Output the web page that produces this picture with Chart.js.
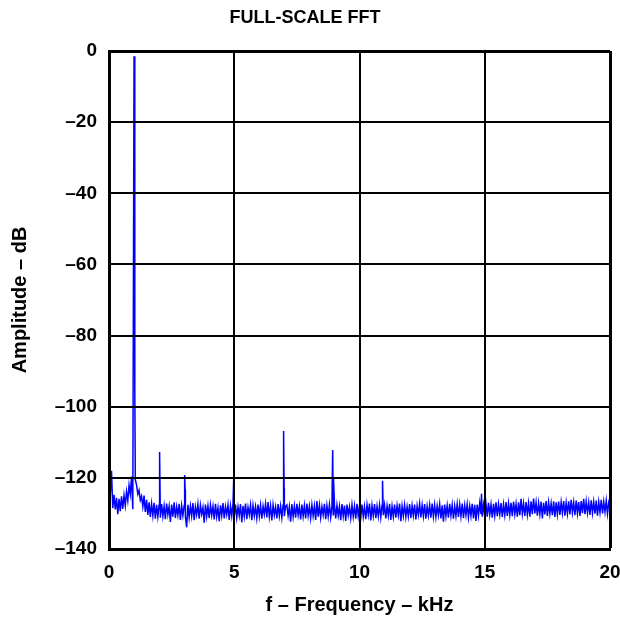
<!DOCTYPE html>
<html>
<head>
<meta charset="utf-8">
<title>Full-Scale FFT</title>
<script src="https://cdn.jsdelivr.net/npm/chart.js@4.4.1/dist/chart.umd.min.js"></script>
<style>
  html, body { margin: 0; padding: 0; background: #fff; }
  #fftChart { display: block; }
</style>
</head>
<body>
<canvas id="fftChart" width="620" height="620"></canvas>
<script>
// noise floor bins, 0.05 kHz apart; row k holds k.00 .. k.95 kHz
const binStepKHz = 0.05;

const floorDb = [
  [-126.0, -125.0, -125.8, -128.5, -124.8, -128.9, -125.6, -130.2, -125.9, -129.4, -125.2, -128.7, -124.9, -127.8, -123.9, -126.4, -122.1, -124.6, -119.6, -128.8],
  [-121.0, -120.5, -122.0, -124.6, -123.5, -126.3, -125.2, -128.1, -125.0, -129.6, -126.2, -130.4, -126.9, -131.0, -127.3, -130.6, -127.0, -131.5, -127.6, -130.9],
  [-127.6, -131.2, -127.4, -130.8, -127.9, -131.6, -127.2, -130.3, -128.0, -132.4, -127.5, -130.9, -126.9, -131.3, -128.1, -130.5, -127.3, -131.8, -127.8, -130.6],
  [-127.8, -130.9, -133.9, -127.6, -131.1, -127.9, -130.7, -127.1, -131.9, -128.2, -130.4, -127.4, -131.5, -127.7, -130.2, -128.3, -132.6, -127.5, -130.8, -127.9],
  [-131.3, -127.6, -130.5, -128.0, -131.7, -127.3, -130.9, -128.4, -132.2, -127.7, -130.6, -127.1, -131.4, -128.1, -130.3, -127.6, -131.8, -127.9, -130.7, -127.4],
  [-130.9, -127.5, -131.2, -128.2, -130.6, -127.4, -132.5, -127.9, -130.8, -127.2, -131.6, -128.3, -130.4, -127.6, -131.9, -127.8, -130.7, -128.1, -131.3, -127.5],
  [-130.8, -127.7, -131.5, -128.0, -130.3, -127.3, -131.1, -126.8, -130.9, -127.9, -132.0, -127.6, -130.5, -128.2, -131.4, -127.4, -130.7, -127.9, -131.2, -127.6],
  [-130.8, -128.0, -127.6, -130.6, -128.1, -132.3, -127.4, -130.9, -127.9, -131.2, -127.3, -130.5, -128.0, -131.7, -127.5, -130.8, -127.8, -131.4, -127.2, -130.6],
  [-128.0, -131.3, -127.6, -130.7, -127.9, -131.8, -126.5, -130.9, -127.7, -131.2, -128.1, -130.4, -127.3, -131.6, -127.8, -130.8, -127.5, -131.1, -127.9, -130.4],
  [-127.6, -131.4, -127.7, -130.6, -128.0, -131.9, -127.4, -130.8, -127.8, -132.1, -127.5, -130.5, -128.2, -131.3, -127.6, -130.9, -127.9, -131.5, -127.3, -130.7],
  [-127.9, -131.2, -127.5, -130.9, -128.1, -131.6, -127.6, -130.4, -127.2, -132.0, -127.8, -130.7, -127.4, -131.3, -128.0, -130.8, -127.6, -131.1, -127.7, -130.5],
  [-127.7, -131.4, -127.9, -130.6, -127.3, -131.8, -128.0, -130.9, -127.5, -131.2, -127.8, -130.5, -127.2, -132.2, -127.9, -130.7, -127.6, -131.0, -128.1, -130.8],
  [-127.4, -131.3, -127.8, -130.6, -127.5, -131.7, -127.9, -130.4, -127.3, -131.1, -127.7, -130.8, -127.4, -131.5, -128.0, -130.6, -127.6, -131.2, -127.2, -130.9],
  [-127.6, -131.0, -127.9, -130.5, -127.4, -131.4, -127.7, -132.3, -127.5, -130.8, -127.8, -131.2, -127.3, -130.6, -127.6, -131.5, -127.9, -130.7, -127.4, -131.0],
  [-127.5, -130.8, -127.2, -131.3, -127.7, -130.5, -127.4, -131.1, -127.9, -130.7, -127.3, -131.4, -127.6, -132.1, -127.5, -130.6, -127.1, -130.2, -130.9, -127.6],
  [-130.6, -127.4, -130.9, -127.0, -130.4, -127.5, -131.2, -127.3, -130.6, -126.9, -130.8, -127.4, -130.3, -127.1, -131.0, -127.5, -130.5, -126.8, -130.7, -127.2],
  [-130.4, -127.0, -130.8, -126.7, -130.2, -127.3, -130.9, -126.9, -130.5, -125.9, -130.1, -127.2, -130.7, -126.8, -130.3, -127.1, -130.9, -126.6, -130.2, -125.8],
  [-130.0, -126.9, -130.6, -127.1, -130.2, -126.7, -131.4, -127.0, -130.3, -126.5, -130.7, -126.9, -130.1, -127.2, -130.5, -126.6, -131.0, -126.9, -130.2, -126.7],
  [-130.4, -126.8, -129.9, -126.5, -130.6, -127.0, -130.1, -126.6, -130.3, -126.2, -129.8, -126.9, -130.5, -126.4, -130.0, -126.8, -130.7, -126.5, -129.9, -125.9],
  [-130.2, -126.6, -129.8, -126.9, -130.4, -126.3, -129.9, -126.7, -130.1, -126.4, -130.6, -126.8, -129.7, -126.2, -130.0, -126.7, -129.6, -126.4, -130.1, -126.9],
  [-128.0]
];

// narrow lines standing above the floor: the 1 kHz tone, its harmonics and spurs
const spikeKHz = [0.10, 1.00, 1.03, 2.02, 3.02, 3.04, 4.98, 6.97, 6.99, 8.93, 8.96, 10.92, 14.87];
const spikeDb  = [-118.0, -1.5, -95.5, -112.7, -119.2, -123.4, -119.7, -106.8, -123.0, -112.2, -119.7, -120.8, -124.5];

const xTickValues = [0, 5, 10, 15, 20];
const yTickValues = [0, -20, -40, -60, -80, -100, -120, -140];

const FONT = "'Liberation Sans', Arial, Helvetica, sans-serif";

function buildPoints() {

    const byFreq = new Map();

    floorDb.forEach((row, k) => {
        row.forEach((db, j) => {
            const f = +(k + j * binStepKHz).toFixed(2);
            byFreq.set(f.toFixed(2), { x: f, y: db });
        });
    });

    // a spike on a floor bin takes that bin's place
    spikeKHz.forEach((f, i) => {
        byFreq.set(f.toFixed(2), { x: f, y: spikeDb[i] });
    });

    return [...byFreq.values()].sort((a, b) => a.x - b.x);
}

function fixedTicks(values) {
    return (scale) => {
        scale.ticks = values.map((v) => ({ value: v }));
    };
}

// edge lines of the plot frame are a little heavier than the inner grid
function gridWidth(edges) {
    return (ctx) =>
        ctx.tick && edges.includes(ctx.tick.value) ? 3 : 2;
}

const ctx = document.getElementById("fftChart").getContext("2d");

new Chart(ctx, {

    type: "line",

    data: {
        datasets: [
            {
                data: buildPoints(),
                borderColor: "#0000ff",
                borderWidth: 1.5,
                pointRadius: 0,
                tension: 0,
                fill: false
            }
        ]
    },

    options: {

        responsive: false,
        animation: false,
        devicePixelRatio: 1,

        layout: {
            padding: { left: 0, right: 10, top: 0, bottom: 0 }
        },

        plugins: {
            legend: { display: false },
            tooltip: { enabled: false },
            title: {
                display: true,
                text: "FULL-SCALE FFT",
                color: "#000",
                font: { family: FONT, size: 18, weight: "bold" },
                padding: { top: 7, bottom: 22.4 }
            }
        },

        scales: {

            x: {
                type: "linear",
                min: 0,
                max: 20,
                afterBuildTicks: fixedTicks(xTickValues),
                afterFit: (scale) => {
                    scale.height = 71;
                    scale.paddingLeft = 0;
                    scale.paddingRight = 0;
                },
                ticks: {
                    color: "#000",
                    padding: 12,
                    autoSkip: false,
                    maxRotation: 0,
                    font: { family: FONT, size: 19, weight: "bold" }
                },
                grid: {
                    color: "#000",
                    lineWidth: gridWidth([20]),
                    drawTicks: false,
                    z: 1
                },
                border: { display: true, color: "#000", width: 3, z: 1 },
                title: {
                    display: true,
                    text: "f \u2013 Frequency \u2013 kHz",
                    color: "#000",
                    font: { family: FONT, size: 20, weight: "bold" },
                    padding: { top: 0, bottom: 3 }
                }
            },

            y: {
                type: "linear",
                min: -140,
                max: 0,
                afterBuildTicks: fixedTicks(yTickValues),
                afterFit: (scale) => { scale.width = 109; },
                ticks: {
                    color: "#000",
                    padding: 12,
                    autoSkip: false,
                    font: { family: FONT, size: 19, weight: "bold" },
                    callback: (v) => v < 0 ? "\u2013" + Math.abs(v) : String(v)
                },
                grid: {
                    color: "#000",
                    lineWidth: gridWidth([0]),
                    drawTicks: false,
                    z: 1
                },
                border: { display: true, color: "#000", width: 3, z: 1 },
                title: {
                    display: true,
                    text: "Amplitude \u2013 dB",
                    color: "#000",
                    font: { family: FONT, size: 20, weight: "bold" },
                    padding: { top: 8, bottom: 0 }
                }
            }
        }
    }
});
</script>
</body>
</html>
